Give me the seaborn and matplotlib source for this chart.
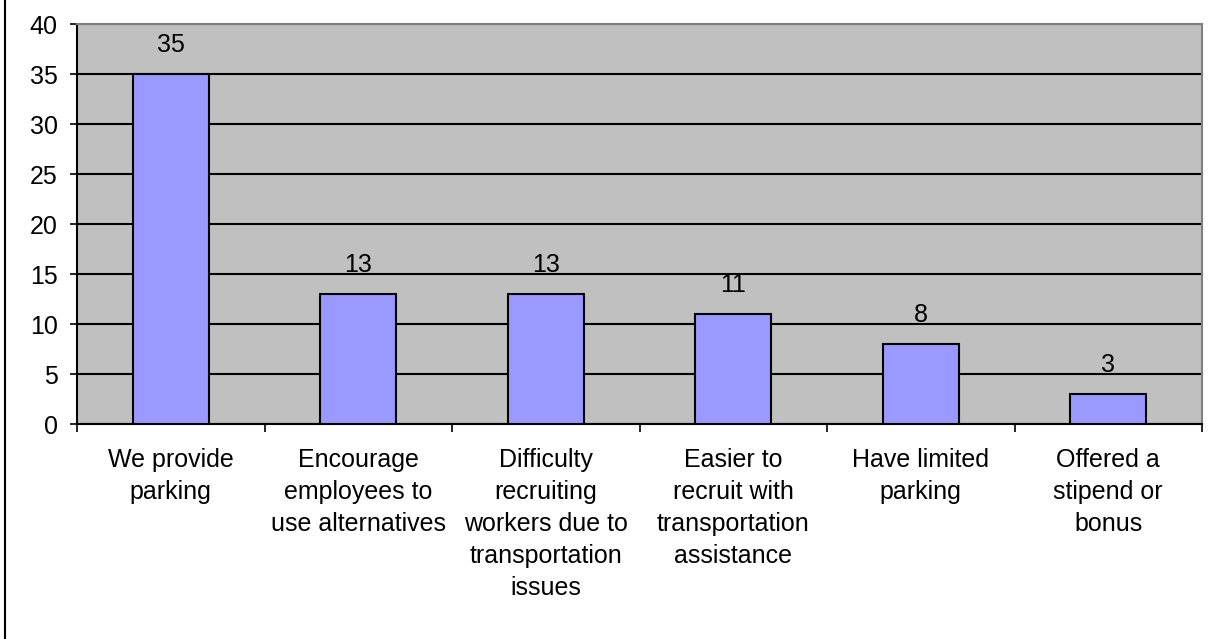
import matplotlib
matplotlib.use("Agg")
import matplotlib.pyplot as plt
from matplotlib.lines import Line2D
from matplotlib.ticker import FixedLocator, NullFormatter
import seaborn as sns
import pandas as pd

categories = [
    "We provide\nparking",
    "Encourage\nemployees to\nuse alternatives",
    "Difficulty\nrecruiting\nworkers due to\ntransportation\nissues",
    "Easier to\nrecruit with\ntransportation\nassistance",
    "Have limited\nparking",
    "Offered a\nstipend or\nbonus",
]
counts = [35, 13, 13, 11, 8, 3]
y_ticks = [0, 5, 10, 15, 20, 25, 30, 35, 40]

sns.set_theme(style="white")
plt.rcParams["font.family"] = ["Liberation Sans", "DejaVu Sans"]

df = pd.DataFrame({"category": categories, "count": counts})

fig = plt.figure(figsize=(12.13, 6.39), dpi=100)
ax = fig.add_axes([77 / 1213, 1 - 424 / 639, (1202 - 77) / 1213, (424 - 24) / 639])

sns.barplot(data=df, x="category", y="count", color="#9999FF", saturation=1,
            width=0.405, edgecolor="black", linewidth=1.5, ax=ax, zorder=3)

ax.set_facecolor("#C0C0C0")
ax.set_ylim(0, 40)
ax.set_xlim(-0.5, len(categories) - 0.5)
ax.set_yticks(y_ticks)
ax.yaxis.grid(True, color="black", linewidth=1.5, zorder=1)
ax.set_axisbelow(True)

ax.set_xlabel("")
ax.set_ylabel("")

for side in ("top", "right"):
    ax.spines[side].set_color("#808080")
    ax.spines[side].set_linewidth(1.5)
for side in ("left", "bottom"):
    ax.spines[side].set_color("black")
    ax.spines[side].set_linewidth(1.5)

ax.tick_params(axis="y", which="major", direction="out", length=5, width=1.2,
               color="black", left=True, labelsize=18, pad=9, labelcolor="black")
ax.tick_params(axis="x", which="major", length=0, labelsize=18, pad=17,
               labelcolor="black")
ax.xaxis.set_minor_locator(FixedLocator([i - 0.5 for i in range(len(categories) + 1)]))
ax.xaxis.set_minor_formatter(NullFormatter())
ax.tick_params(axis="x", which="minor", direction="out", length=6, width=1.2,
               color="black", bottom=True)
for lbl in ax.get_xticklabels():
    lbl.set_multialignment("center")
    lbl.set_linespacing(1.43)

for i, v in enumerate(counts):
    ax.annotate(str(v), (i, v), xytext=(0, 12), textcoords="offset points",
                ha="center", va="bottom", fontsize=18, color="black")

fig.add_artist(Line2D([5 / 1213, 5 / 1213], [0, 1], color="black", linewidth=1.5,
                      transform=fig.transFigure))

fig.savefig("out.png", dpi=100, facecolor="white")
